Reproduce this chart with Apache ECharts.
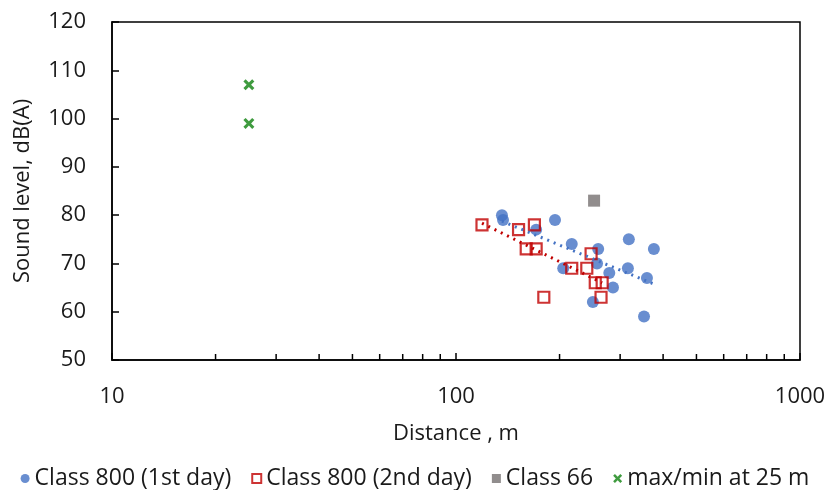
<!DOCTYPE html>
<html><head><meta charset="utf-8">
<script src="https://cdn.jsdelivr.net/npm/echarts@6/dist/echarts.min.js"></script>
<style>html,body{margin:0;padding:0;background:#fff}#c{width:830px;height:490px}</style>
</head><body><div id="c"></div>
<script>
const blueX = [136,137,194,171,217,259,318,376,205,257,279,316,359,286,250,352];
const blueY = [80,79,79,77,74,73,75,73,69,70,68,69,67,65,62,59];
const redX = [119,152,169,160,171,247,217,240,254,266,264,180];
const redY = [78,77,78,73,73,72,69,69,66,66,63,63];
const grayX = [252];
const grayY = [83];
const greenX = [25,25];
const greenY = [107,99];
const yTicks = [50,60,70,80,90,100,110,120];
const xMinorTicks = [20,30,40,50,60,70,80,90,200,300,400,500,600,700,800,900];
const seriesNames = ['Class 800 (1st day)','Class 800 (2nd day)','Class 66','max/min at 25 m'];

function zip(xs, ys){ return xs.map((x,i)=>[x, ys[i]]); }
function logFit(xs, ys){
  const lx = xs.map(Math.log);
  const n = xs.length;
  const mx = lx.reduce((a,b)=>a+b,0)/n, my = ys.reduce((a,b)=>a+b,0)/n;
  let sxy=0, sxx=0;
  for(let i=0;i<n;i++){ sxy += (lx[i]-mx)*(ys[i]-my); sxx += (lx[i]-mx)**2; }
  const b = sxy/sxx, a = my - b*mx;
  const x0 = Math.min(...xs), x1 = Math.max(...xs);
  return [[x0, a+b*Math.log(x0)], [x1, a+b*Math.log(x1)]];
}
const FONT = 'Open Sans';
const TXT = '#1a1a1a';
const crossPath = 'path://M2,0 L5,3 L8,0 L10,2 L7,5 L10,8 L8,10 L5,7 L2,10 L0,8 L3,5 L0,2 Z';

const chart = echarts.init(document.getElementById('c'));
chart.setOption({
  animation:false,
  textStyle:{fontFamily:FONT},
  grid:{left:112, right:30, top:22, bottom:130, show:true, borderColor:'#000', borderWidth:1.5, backgroundColor:'transparent'},
  legend:{
    data:[
      {name:seriesNames[0], icon:'circle'},
      {name:seriesNames[1], icon:'rect'},
      {name:seriesNames[2], icon:'rect'},
      {name:seriesNames[3], icon:crossPath}
    ],
    top:462, left:'center', itemWidth:9, itemHeight:9, itemGap:20,
    textStyle:{fontFamily:FONT, fontSize:23, color:TXT}
  },
  xAxis:{
    type:'log', logBase:10, min:10, max:1000,
    name:'Distance , m', nameLocation:'middle', nameGap:63,
    nameTextStyle:{fontSize:22, color:TXT, fontFamily:FONT},
    axisLine:{lineStyle:{color:'#000', width:1.5}},
    axisTick:{show:true, inside:true, length:7, lineStyle:{color:'#000', width:1.5}},
    axisLabel:{fontSize:22, color:TXT, margin:26, formatter:function(v){return String(v);}},
    splitLine:{show:false}
  },
  yAxis:{
    type:'value', min:50, max:120, interval:10,
    name:'Sound level, dB(A)', nameLocation:'middle', nameGap:78,
    nameTextStyle:{fontSize:22, color:TXT, fontFamily:FONT},
    axisLine:{show:true, lineStyle:{color:'#000', width:1.5}},
    axisTick:{show:true, inside:true, length:7, lineStyle:{color:'#000', width:1.5}},
    axisLabel:{fontSize:22, color:TXT, margin:26},
    splitLine:{show:false}
  },
  series:[
    {type:'custom', silent:true, z:1,
     data:xMinorTicks.map(v=>[v, yTicks[0]]),
     renderItem:function(params, api){
       const p = api.coord([api.value(0), api.value(1)]);
       return {type:'line', shape:{x1:p[0], y1:p[1], x2:p[0], y2:p[1]-6}, style:{stroke:'#000', lineWidth:1.5}};
     }},
    {name:seriesNames[0], type:'scatter', data:zip(blueX, blueY), symbol:'circle', symbolSize:12,
     itemStyle:{color:'#4472C4'}, z:2},
    {name:seriesNames[1], type:'scatter', data:zip(redX, redY), symbol:'rect', symbolSize:11,
     itemStyle:{color:'rgba(255,255,255,0)', borderColor:'#C00000', borderWidth:2.2}, z:4},
    {name:seriesNames[2], type:'scatter', data:zip(grayX, grayY), symbol:'rect', symbolSize:12,
     itemStyle:{color:'#767171'}, z:3},
    {name:seriesNames[3], type:'scatter', data:zip(greenX, greenY), symbol:crossPath, symbolSize:11,
     itemStyle:{color:'#0F820F'}, z:3},
    {name:'trend1', type:'line', data:logFit(blueX, blueY), showSymbol:false, symbol:'none',
     lineStyle:{color:'#4472C4', width:3, type:[2,5]}, z:5, silent:true},
    {name:'trend2', type:'line', data:logFit(redX, redY), showSymbol:false, symbol:'none',
     lineStyle:{color:'#C00000', width:3, type:[2,5]}, z:5, silent:true}
  ]
});
</script></body></html>
